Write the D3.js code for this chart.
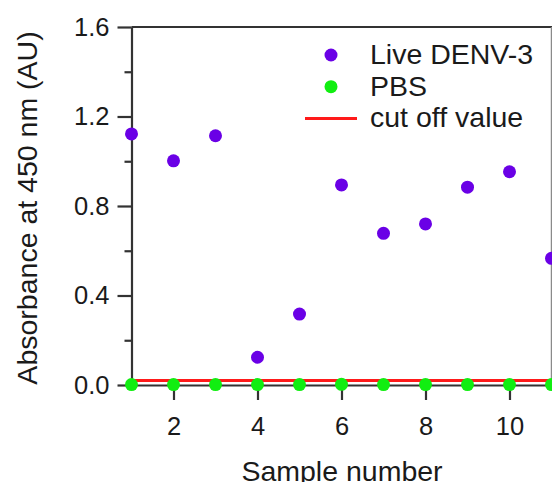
<!DOCTYPE html>
<html lang="en">
<head>
<meta charset="UTF-8">
<title>Absorbance scatter</title>
<script src="https://d3js.org/d3.v7.min.js"></script>
<style>
    body { margin: 0; background: #fff; }
    svg { display: block; font-family: "Liberation Sans", Arial, sans-serif; }
    .axis path, .axis line { stroke: #333; stroke-width: 2.2; }
    .axis text { fill: #1a1a1a; font-size: 25.5px; }
</style>
</head>
<body>
<svg id="main" width="552" height="482"></svg>
<script>
    // data
    let samples = [1, 2, 3, 4, 5, 6, 7, 8, 9, 10, 11];
    let liveDenv = [1.122, 1.002, 1.114, 0.124, 0.317, 0.894, 0.678, 0.720, 0.884, 0.953, 0.566];
    let pbs = [0.002, 0.002, 0.002, 0.002, 0.002, 0.003, 0.002, 0.002, 0.002, 0.002, 0.002];
    let cutOff = 0.02;
    let yMajor = [0, 0.4, 0.8, 1.2, 1.6];
    let yMinor = [0.2, 0.6, 1.0, 1.4];
    let xMajor = [2, 4, 6, 8, 10];
    let legendNames = ['Live DENV-3', 'PBS', 'cut off value'];

    let colors = {live: '#6a00e6', pbs: '#11ee11', cut: '#ff1a1a'};

    let svg = d3.select('#main');
    let xScale = d3.scaleLinear().domain([1, 11]).range([131.5, 551.5]);
    let yScale = d3.scaleLinear().domain([0, 1.6]).range([385, 27]);

    // frame lines (top + right)
    svg.append('line')
        .attr('x1', xScale(1)).attr('x2', 552)
        .attr('y1', yScale(1.6)).attr('y2', yScale(1.6))
        .attr('stroke', '#333').attr('stroke-width', 2.2);
    svg.append('line')
        .attr('x1', xScale(11)).attr('x2', xScale(11))
        .attr('y1', yScale(1.6)).attr('y2', yScale(0))
        .attr('stroke', '#8a8a8a').attr('stroke-width', 1.5);

    // cut off line
    svg.append('line')
        .attr('x1', xScale(1)).attr('x2', 552)
        .attr('y1', yScale(cutOff)).attr('y2', yScale(cutOff))
        .attr('stroke', colors.cut).attr('stroke-width', 3);

    // axes
    svg.append('g').attr('class', 'axis')
        .attr('transform', 'translate(' + xScale(1) + ',0)')
        .call(d3.axisLeft(yScale).tickValues(yMinor).tickSize(7).tickFormat(''))
        .call(g => g.select('.domain').remove());
    svg.append('g').attr('class', 'axis')
        .attr('transform', 'translate(' + xScale(1) + ',0)')
        .call(d3.axisLeft(yScale).tickValues(yMajor).tickSize(14).tickSizeOuter(0)
            .tickPadding(8).tickFormat(d3.format('.1f')));
    svg.append('g').attr('class', 'axis')
        .attr('transform', 'translate(0,' + yScale(0) + ')')
        .call(d3.axisBottom(xScale).tickValues(xMajor).tickSize(15).tickSizeOuter(0)
            .tickPadding(17));

    // points
    svg.append('g').selectAll('circle')
        .data(samples)
        .join('circle')
        .attr('cx', d => xScale(d))
        .attr('cy', (d, i) => yScale(liveDenv[i]))
        .attr('r', 6.5)
        .attr('fill', colors.live);
    svg.append('g').selectAll('circle')
        .data(samples)
        .join('circle')
        .attr('cx', d => xScale(d))
        .attr('cy', (d, i) => yScale(pbs[i]))
        .attr('r', 6.5)
        .attr('fill', colors.pbs);

    // axis titles
    svg.append('text')
        .attr('transform', 'translate(37,208) rotate(-90)')
        .attr('text-anchor', 'middle')
        .attr('fill', '#1a1a1a')
        .style('font-size', '28.5px')
        .text('Absorbance at 450 nm (AU)');
    svg.append('text')
        .attr('x', 342).attr('y', 481)
        .attr('text-anchor', 'middle')
        .attr('fill', '#1a1a1a')
        .style('font-size', '28.5px')
        .text('Sample number');

    // legend
    let legend = svg.append('g').attr('transform', 'translate(305,55)');
    legendNames.forEach(function (name, i) {
        let row = legend.append('g').attr('transform', 'translate(0,' + (i * 31.7) + ')');
        if (i < 2) {
            row.append('circle').attr('cx', 26).attr('cy', 0).attr('r', 6.5)
                .attr('fill', i === 0 ? colors.live : colors.pbs);
        } else {
            row.append('line').attr('x1', 0).attr('x2', 52).attr('y1', 0).attr('y2', 0)
                .attr('stroke', colors.cut).attr('stroke-width', 3);
        }
        row.append('text')
            .attr('x', 65).attr('y', 9)
            .attr('fill', '#1a1a1a')
            .style('font-size', '28.5px')
            .text(name);
    });
</script>
</body>
</html>
